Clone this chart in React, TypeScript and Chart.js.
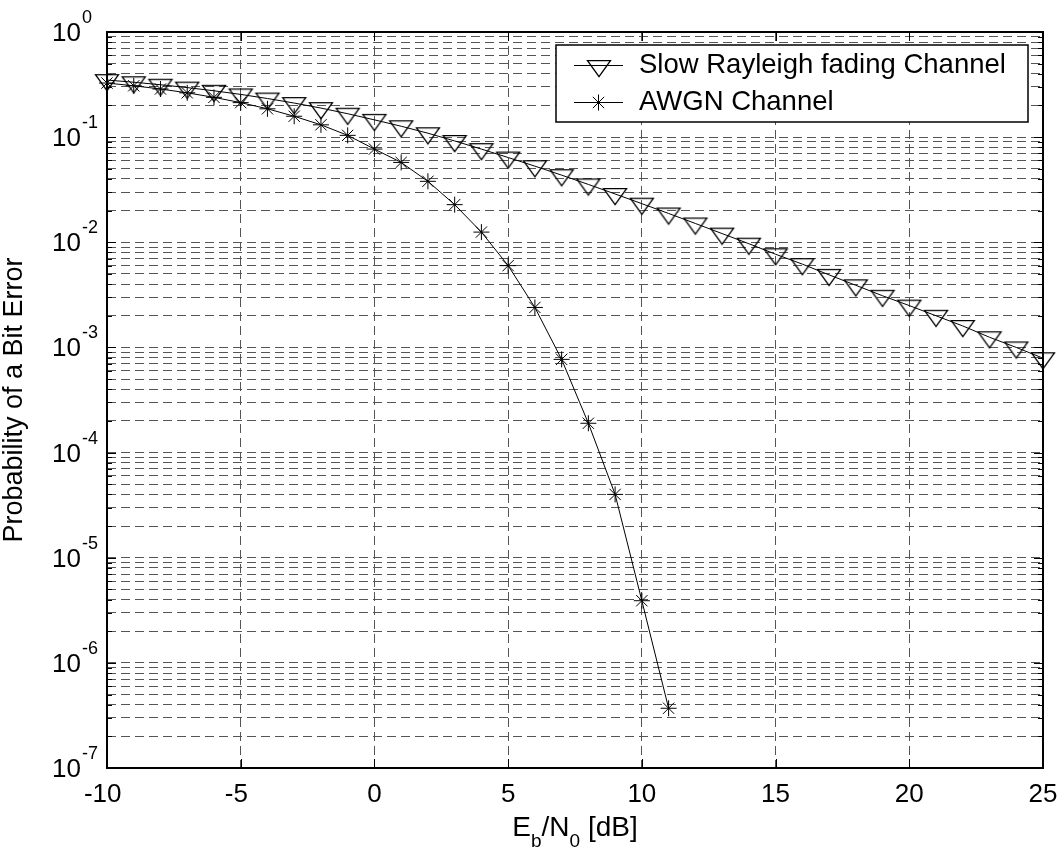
import React, { useEffect, useRef } from 'react';
import { Chart, registerables } from 'chart.js';

Chart.register(...registerables);

const ebn0Rayleigh = [-10, -9, -8, -7, -6, -5, -4, -3, -2, -1, 0, 1, 2, 3, 4, 5, 6, 7, 8, 9, 10, 11, 12, 13, 14, 15, 16, 17, 18, 19, 20, 21, 22, 23, 24, 25];
const berRayleigh = [0.349, 0.333, 0.315, 0.296, 0.276, 0.255, 0.233, 0.211, 0.189, 0.167, 0.146, 0.127, 0.109, 0.092, 0.077, 0.064, 0.053, 0.0435, 0.0355, 0.0288, 0.0233, 0.0188, 0.0151, 0.0121, 0.0097, 0.0077, 0.0062, 0.0049, 0.0039, 0.0031, 0.0025, 0.002, 0.0016, 0.00125, 0.001, 0.00079];
const ebn0Awgn = [-10, -9, -8, -7, -6, -5, -4, -3, -2, -1, 0, 1, 2, 3, 4, 5, 6, 7, 8, 9, 10, 11];
const berAwgn = [0.327, 0.308, 0.287, 0.264, 0.239, 0.213, 0.186, 0.158, 0.131, 0.104, 0.077, 0.0575, 0.038, 0.0228, 0.0125, 0.006, 0.0024, 0.00077, 0.00019, 0.00004, 0.0000039, 0.00000037];

const seriesLabels = ['Slow Rayleigh fading Channel', 'AWGN Channel'];
const xTicks = [-10, -5, 0, 5, 10, 15, 20, 25];
const yDecades = [0, -1, -2, -3, -4, -5, -6, -7];
const yTitle = 'Probability of a Bit Error';
const xTitleParts = [
  { t: 'E', sub: false },
  { t: 'b', sub: true },
  { t: '/N', sub: false },
  { t: '0', sub: true },
  { t: ' [dB]', sub: false },
];

const FONT = '"Liberation Sans", Arial, Helvetica, sans-serif';
const GRID = '#555555';

function makeTriangle(): HTMLCanvasElement {
  const w = 28;
  const h = 26;
  const c = document.createElement('canvas');
  c.width = w;
  c.height = h;
  const g = c.getContext('2d')!;
  const cx = w / 2;
  const cy = h / 2;
  const th = 16;
  const tw = 23;
  g.beginPath();
  g.moveTo(cx - tw / 2, cy - th / 3);
  g.lineTo(cx + tw / 2, cy - th / 3);
  g.lineTo(cx, cy + (2 * th) / 3);
  g.closePath();
  g.strokeStyle = '#000';
  g.lineWidth = 1.3;
  g.stroke();
  return c;
}

function drawStar(ctx: CanvasRenderingContext2D, x: number, y: number, r: number) {
  ctx.beginPath();
  ctx.moveTo(x - r, y);
  ctx.lineTo(x + r, y);
  ctx.moveTo(x, y - r);
  ctx.lineTo(x, y + r);
  const d = r * Math.SQRT1_2;
  ctx.moveTo(x - d, y - d);
  ctx.lineTo(x + d, y + d);
  ctx.moveTo(x - d, y + d);
  ctx.lineTo(x + d, y - d);
  ctx.stroke();
}

const overlayPlugin = {
  id: 'matlabOverlay',
  afterDraw(chart: any) {
    const { ctx, chartArea } = chart;
    const { left, right, top, bottom } = chartArea;
    const xs = chart.scales.x;
    const ys = chart.scales.y;
    ctx.save();
    ctx.strokeStyle = '#000';
    ctx.lineWidth = 1;
    ctx.setLineDash([]);
    // inner tick marks
    for (const v of xTicks) {
      const px = Math.round(xs.getPixelForValue(v)) + 0.5;
      ctx.beginPath();
      ctx.moveTo(px, bottom);
      ctx.lineTo(px, bottom - 9);
      ctx.moveTo(px, top);
      ctx.lineTo(px, top + 9);
      ctx.stroke();
    }
    for (const e of yDecades) {
      for (let m = 1; m <= 9; m++) {
        const v = m * Math.pow(10, e);
        if (v > 1.0000001) continue;
        const py = Math.round(ys.getPixelForValue(v)) + 0.5;
        const len = m === 1 ? 9 : 5;
        ctx.beginPath();
        ctx.moveTo(left, py);
        ctx.lineTo(left + len, py);
        ctx.moveTo(right, py);
        ctx.lineTo(right - len, py);
        ctx.stroke();
      }
    }
    // box
    ctx.lineWidth = 2;
    ctx.strokeRect(left, top, right - left, bottom - top);

    ctx.fillStyle = '#000';
    // y tick labels
    for (const e of yDecades) {
      const py = ys.getPixelForValue(Math.pow(10, e));
      ctx.font = `26px ${FONT}`;
      ctx.textAlign = 'right';
      ctx.textBaseline = 'alphabetic';
      ctx.fillText('10', 81, py + 9);
      ctx.font = `18px ${FONT}`;
      ctx.textAlign = 'left';
      ctx.fillText(String(e), 82, py - 9);
    }
    // x tick labels (digits centred on the tick, minus sign hanging left)
    ctx.font = `26px ${FONT}`;
    ctx.textAlign = 'center';
    const minusW = ctx.measureText('-').width;
    for (const v of xTicks) {
      const px = xs.getPixelForValue(v);
      const shift = v < 0 ? minusW / 2 : 0;
      ctx.fillText(String(v), px - shift, 802);
    }
    // x title
    const mainF = `28px ${FONT}`;
    const subF = `19px ${FONT}`;
    let total = 0;
    for (const p of xTitleParts) {
      ctx.font = p.sub ? subF : mainF;
      total += ctx.measureText(p.t).width;
    }
    let cx = (left + right) / 2 - total / 2;
    ctx.textAlign = 'left';
    for (const p of xTitleParts) {
      ctx.font = p.sub ? subF : mainF;
      ctx.fillText(p.t, cx, p.sub ? 847 : 836);
      cx += ctx.measureText(p.t).width;
    }
    // y title
    ctx.save();
    ctx.translate(22, (top + bottom) / 2);
    ctx.rotate(-Math.PI / 2);
    ctx.font = `27px ${FONT}`;
    ctx.textAlign = 'center';
    ctx.fillText(yTitle, 0, 0);
    ctx.restore();

    // legend
    const lx = 556;
    const ly = 45;
    const lw = 472;
    const lh = 77;
    ctx.fillStyle = '#fff';
    ctx.fillRect(lx, ly, lw, lh);
    ctx.strokeStyle = '#000';
    ctx.lineWidth = 1.5;
    ctx.strokeRect(lx, ly, lw, lh);
    const rows = [65.5, 102.5];
    const baselines = [73, 110];
    chart.data.datasets.forEach((ds: any, i: number) => {
      const ry = rows[i];
      ctx.strokeStyle = '#000';
      ctx.lineWidth = 1;
      ctx.beginPath();
      ctx.moveTo(574, ry);
      ctx.lineTo(623, ry);
      ctx.stroke();
      if (i === 0) {
        const img = ds.pointStyle as HTMLCanvasElement;
        ctx.drawImage(img, Math.round(598.5 - img.width / 2), Math.round(ry - img.height / 2));
      } else {
        drawStar(ctx, 598.5, ry, 8);
      }
      ctx.fillStyle = '#000';
      ctx.font = `27.5px ${FONT}`;
      ctx.textAlign = 'left';
      ctx.textBaseline = 'alphabetic';
      ctx.fillText(ds.label, 639, baselines[i]);
    });
    ctx.restore();
  },
};

export default function App() {
  const ref = useRef<HTMLCanvasElement | null>(null);
  useEffect(() => {
    if (!ref.current) return;
    const tri = makeTriangle();
    const chart = new Chart(ref.current, {
      type: 'line',
      data: {
        datasets: [
          {
            label: seriesLabels[0],
            data: ebn0Rayleigh.map((x, i) => ({ x, y: berRayleigh[i] })),
            borderColor: '#000',
            borderWidth: 1,
            pointStyle: tri as any,
            pointRadius: 12,
            pointBorderColor: '#000',
            pointBackgroundColor: 'rgba(0,0,0,0)',
            tension: 0,
            clip: false as any,
          },
          {
            label: seriesLabels[1],
            data: ebn0Awgn.map((x, i) => ({ x, y: berAwgn[i] })),
            borderColor: '#000',
            borderWidth: 1,
            pointStyle: 'star',
            pointRadius: 8,
            pointBorderWidth: 1,
            pointBorderColor: '#000',
            pointBackgroundColor: 'rgba(0,0,0,0)',
            tension: 0,
            clip: false as any,
          },
        ],
      },
      options: {
        animation: false,
        responsive: false,
        devicePixelRatio: 1,
        layout: { padding: { top: 32, right: 16, left: 0, bottom: 0 } },
        plugins: { legend: { display: false }, tooltip: { enabled: false } },
        events: [],
        scales: {
          x: {
            type: 'linear',
            min: -10,
            max: 25,
            afterBuildTicks: (s: any) => {
              s.ticks = xTicks.map((v) => ({ value: v }));
            },
            ticks: { display: false },
            grid: { color: GRID, lineWidth: 1, drawTicks: false },
            border: { display: false, dash: [9, 5] },
            afterFit: (s: any) => {
              s.height = 84;
            },
          },
          y: {
            type: 'logarithmic',
            min: 1e-7,
            max: 1,
            afterBuildTicks: (s: any) => {
              const t: any[] = [];
              for (const e of yDecades) {
                for (let m = 1; m <= 9; m++) {
                  const v = m * Math.pow(10, e);
                  if (v <= 1.0000001) t.push({ value: v });
                }
              }
              s.ticks = t;
            },
            ticks: { display: false },
            grid: { color: GRID, lineWidth: 1, drawTicks: false },
            border: { display: false, dash: [9, 5] },
            afterFit: (s: any) => {
              s.width = 107;
            },
          },
        },
      },
      plugins: [overlayPlugin],
    });
    return () => chart.destroy();
  }, []);
  return (
    <div style={{ position: 'fixed', left: 0, top: 0, width: 1059, height: 852, background: '#fff' }}>
      <canvas ref={ref} width={1059} height={852} style={{ width: 1059, height: 852, display: 'block' }} />
    </div>
  );
}
